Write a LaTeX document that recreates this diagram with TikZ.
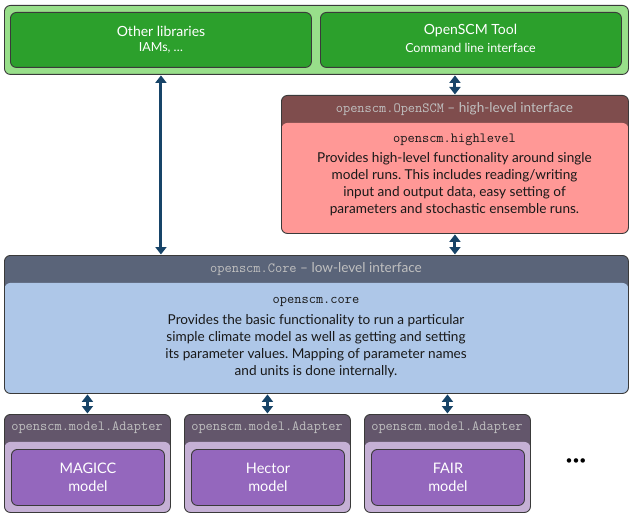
\documentclass[tikz,border=0pt]{standalone}
\usepackage{fontspec}
\setmainfont{Lato}
\usetikzlibrary{arrows.meta}
\frenchspacing
\definecolor{grnL}{HTML}{98DF8A}
\definecolor{grnD}{HTML}{2CA02C}
\definecolor{redH}{HTML}{7F4D4D}
\definecolor{redB}{HTML}{FF9896}
\definecolor{bluH}{HTML}{5A6479}
\definecolor{bluB}{HTML}{AEC7E8}
\definecolor{purH}{HTML}{63566B}
\definecolor{purL}{HTML}{C5B0D5}
\definecolor{purD}{HTML}{9467BD}
\definecolor{arrc}{HTML}{174468}
\definecolor{hdtxt}{HTML}{C0C0C0}
\definecolor{edgec}{HTML}{3A3A3A}
\tikzset{
  box/.style={draw=edgec, line width=0.9pt, rounded corners=6pt, inner sep=0pt, anchor=north west},
  hbox/.style 2 args={box, fill=#1, path picture={\fill[#2] ([yshift=-27.5pt]path picture bounding box.north west) rectangle (path picture bounding box.south east);}},
  wtxt/.style={text=white, inner sep=0pt},
  htxt/.style={text=hdtxt, inner sep=0pt, font=\fontsize{13.6}{15}\selectfont},
  btxt/.style={text=black!90, inner sep=0pt, align=center, font=\fontsize{13.6}{17}\selectfont},
  mtxt/.style={text=black!90, inner sep=0pt, font=\fontsize{14}{15}\selectfont\ttfamily},
  dbl/.style={arrc, line width=3pt, {Triangle[length=7.5pt,width=11pt]}-{Triangle[length=7.5pt,width=11pt]}, shorten <=0.5pt, shorten >=0.5pt},
}
\begin{document}
\begin{tikzpicture}[x=1pt, y=-1pt]
\useasboundingbox (0,0) rectangle (632,516);
% top group
\node[box, fill=grnL, minimum width=624pt, minimum height=69pt] (top) at (4,5) {};
\node[box, fill=grnD, minimum width=301pt, minimum height=55pt] (lib) at (10,12) {};
\node[box, fill=grnD, minimum width=301pt, minimum height=55pt] (tool) at (320,12) {};
\node[wtxt, font=\fontsize{14}{15}\selectfont] (libt) at (161,31) {Other libraries};
\node[wtxt, font=\fontsize{12.5}{13}\selectfont] (libs) at (161,48) {IAMs, \dots};
\node[wtxt, font=\fontsize{14}{15}\selectfont] (toolt) at (470.5,31) {OpenSCM Tool};
\node[wtxt, font=\fontsize{12.5}{13}\selectfont] (tools) at (470.5,48) {Command line interface};
% high-level
\node[hbox={redH}{redB}, minimum width=347pt, minimum height=138pt] (red) at (281,95) {};
\node[htxt] (redh) at (454.5,109) {\fontsize{14}{15}\selectfont\ttfamily openscm.OpenSCM\rmfamily\fontsize{13.6}{15}\selectfont{} -- high-level interface};
\node[mtxt] (redm) at (454.5,140) {openscm.highlevel};
\node[btxt] (redb) at (454.5,184.5) {Provides high-level functionality around single\\model runs. This includes reading/writing\\input and output data, easy setting of\\parameters and stochastic ensemble runs.};
% core
\node[hbox={bluH}{bluB}, minimum width=624pt, minimum height=138pt] (core) at (4,255) {};
\node[htxt] (coreh) at (316,269) {\fontsize{14}{15}\selectfont\ttfamily openscm.Core\rmfamily\fontsize{13.6}{15}\selectfont{} -- low-level interface};
\node[mtxt] (corem) at (316,302) {openscm.core};
\node[btxt] (coreb) at (316,346) {Provides the basic functionality to run a particular\\simple climate model as well as getting and setting\\its parameter values. Mapping of parameter names\\and units is done internally.};
% adapters
\foreach \i/\x/\m in {1/4/MAGICC, 2/184/Hector, 3/364/FAIR}{
  \node[hbox={purH}{purL}, minimum width=166pt, minimum height=98pt] (ad\i) at (\x,414) {};
  \node[htxt, font=\fontsize{14}{15}\selectfont\ttfamily] (adh\i) at (\x+83,428) {openscm.model.Adapter};
  \node[box, fill=purD, minimum width=153pt, minimum height=56pt] (mod\i) at (\x+7,449) {};
  \node[wtxt, align=center, font=\fontsize{14.5}{18}\selectfont] (modt\i) at (mod\i.center) {\m\\model};
}
\node[inner sep=0pt, font=\fontsize{12}{14}\selectfont] (dots) at (576,462) {\textbullet\textbullet\textbullet};
% connectors
\draw[dbl] (lib.south |- top.south) -- (lib.south |- core.north);
\draw[dbl] (red.north |- top.south) -- (red.north);
\draw[dbl] (red.south) -- (red.south |- core.north);
\foreach \i in {1,2,3}{
  \draw[dbl] (ad\i.north |- core.south) -- (ad\i.north);
}
\end{tikzpicture}
\end{document}
